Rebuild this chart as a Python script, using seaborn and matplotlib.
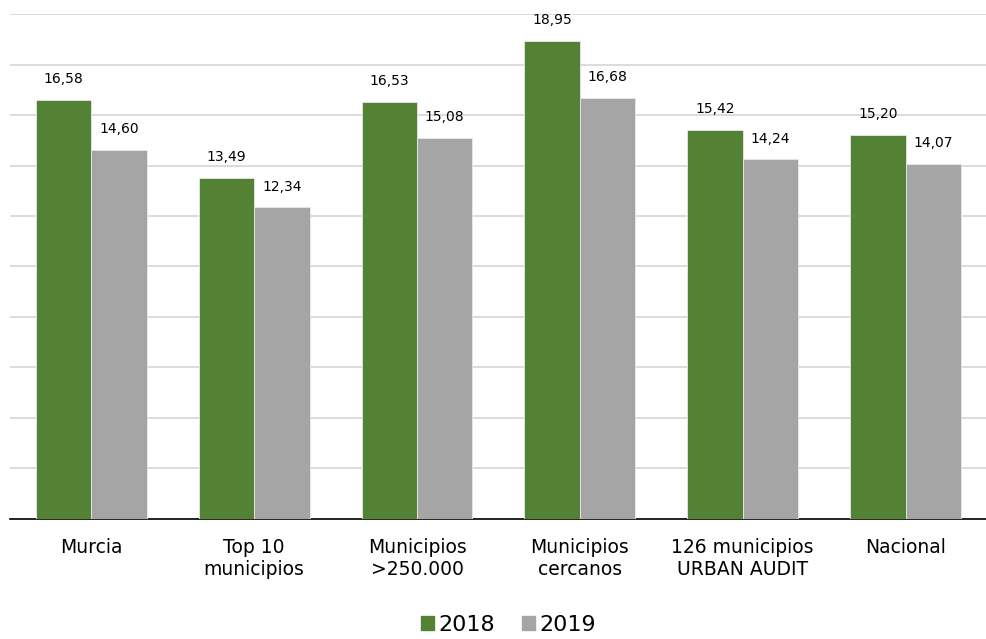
import pandas as pd
import seaborn as sns
import matplotlib.pyplot as plt
from matplotlib.patches import Patch

categorias = ['Murcia', 'Top 10\nmunicipios', 'Municipios\n>250.000',
              'Municipios\ncercanos', '126 municipios\nURBAN AUDIT', 'Nacional']
valores_2018 = [16.58, 13.49, 16.53, 18.95, 15.42, 15.20]
valores_2019 = [14.60, 12.34, 15.08, 16.68, 14.24, 14.07]
años = ['2018', '2019']
colores = ['#548235', '#A5A5A5']

df = pd.DataFrame({
    'categoria': categorias * 2,
    'valor': valores_2018 + valores_2019,
    'año': [años[0]] * len(categorias) + [años[1]] * len(categorias),
})

sns.set_style('white')
plt.rcParams['font.family'] = ['DejaVu Sans']
plt.rcParams['text.color'] = 'black'
plt.rcParams['xtick.color'] = 'black'

fig = plt.figure(figsize=(9.87, 6.39), dpi=100)
ax = fig.add_axes([0.010, 0.188, 0.990, 0.790])

sns.barplot(data=df, x='categoria', y='valor', hue='año', palette=colores,
            width=0.68, saturation=1, ax=ax, legend=False, zorder=3,
            edgecolor='#E8E8E8', linewidth=0.6)

ax.set_ylim(0, 20)
ax.set_yticks(range(0, 21, 2))
ax.yaxis.grid(True, color='#D9D9D9', linewidth=1.3, zorder=0)
ax.set_axisbelow(True)
ax.tick_params(axis='y', left=False, labelleft=False)
ax.tick_params(axis='x', bottom=False, labelsize=13.5, pad=10, labelcolor='black')
ax.set_xlabel('')
ax.set_ylabel('')
for lado in ['left', 'right', 'top']:
    ax.spines[lado].set_visible(False)
ax.spines['bottom'].set_color('#000000')
ax.spines['bottom'].set_linewidth(1.2)

for cont in ax.containers:
    etiquetas = [f'{b.get_height():.2f}'.replace('.', ',') for b in cont]
    ax.bar_label(cont, labels=etiquetas, padding=10, fontsize=10, color='black')

handles = [Patch(color=c, label=a) for c, a in zip(colores, años)]
fig.legend(handles=handles, loc='lower center', bbox_to_anchor=(0.515, -0.025),
           ncol=2, frameon=False, fontsize=16, handlelength=0.6, handleheight=0.6,
           handletextpad=0.2, columnspacing=1.2, labelcolor='black')

fig.savefig('out.png', dpi=100)
